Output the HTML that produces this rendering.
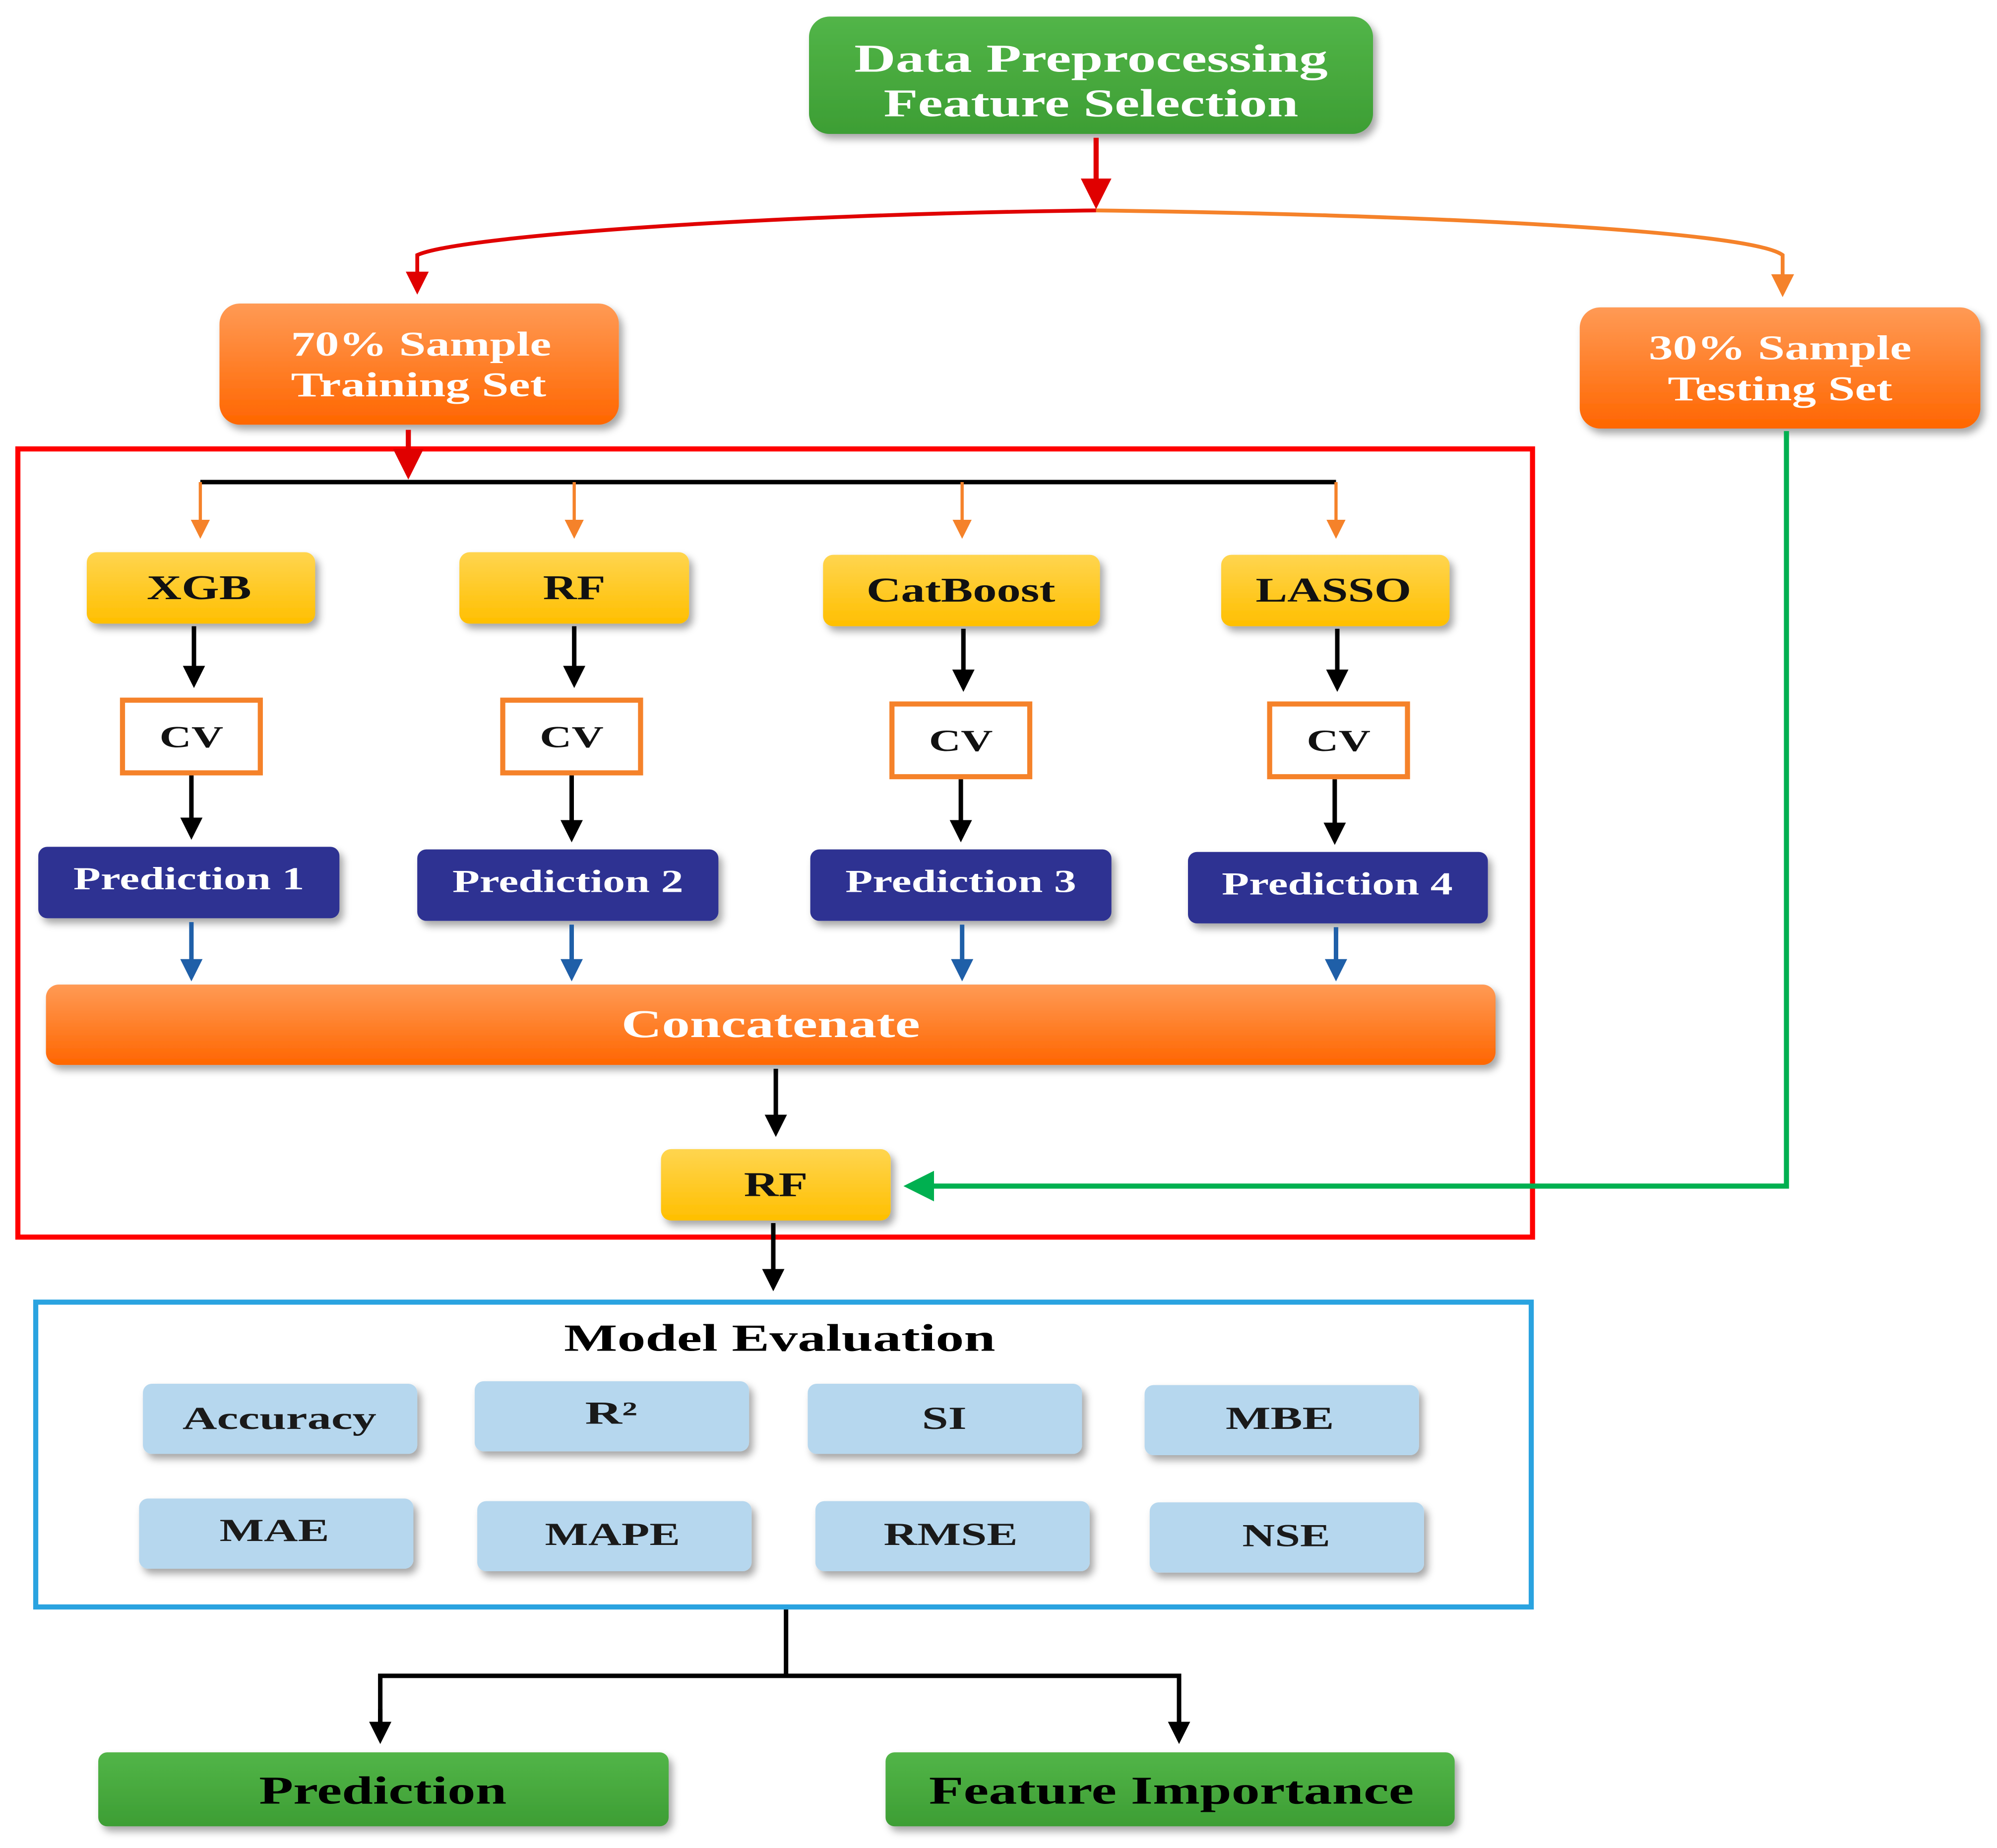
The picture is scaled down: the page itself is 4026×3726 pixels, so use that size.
<!DOCTYPE html>
<html><head><meta charset="utf-8"><style>
html,body{margin:0;padding:0;background:#fff}
svg{display:block}
text{font-family:"Liberation Serif",serif;font-weight:bold;text-anchor:middle;dominant-baseline:central}
</style></head><body>
<svg width="4026" height="3726" viewBox="0 0 1565 1449" preserveAspectRatio="none" xmlns="http://www.w3.org/2000/svg">
<defs>
<linearGradient id="og" x1="0" y1="0" x2="0" y2="1"><stop offset="0" stop-color="#ff9a55"/><stop offset="1" stop-color="#ff6600"/></linearGradient>
<linearGradient id="yg" x1="0" y1="0" x2="0" y2="1"><stop offset="0" stop-color="#ffd54f"/><stop offset="1" stop-color="#ffbf00"/></linearGradient>
<linearGradient id="gg" x1="0" y1="0" x2="0" y2="1"><stop offset="0" stop-color="#52b548"/><stop offset="1" stop-color="#3d9e34"/></linearGradient>
<filter id="sh" x="-10%" y="-20%" width="125%" height="150%"><feDropShadow dx="3" dy="4" stdDeviation="3" flood-color="#000" flood-opacity="0.35"/></filter>
<marker id="ar" markerWidth="6" markerHeight="6" refX="5" refY="3" orient="auto" markerUnits="strokeWidth"><path d="M0,0 L6,3 L0,6 z" fill="#e00000"/></marker>
<marker id="ao" markerWidth="6" markerHeight="6" refX="5" refY="3" orient="auto" markerUnits="strokeWidth"><path d="M0,0 L6,3 L0,6 z" fill="#f5822a"/></marker>
<marker id="ak" markerWidth="5" markerHeight="5" refX="4" refY="2.5" orient="auto" markerUnits="strokeWidth"><path d="M0,0 L5,2.5 L0,5 z" fill="#000"/></marker>
<marker id="ab" markerWidth="5" markerHeight="5" refX="4" refY="2.5" orient="auto" markerUnits="strokeWidth"><path d="M0,0 L5,2.5 L0,5 z" fill="#1f5fa8"/></marker>
<marker id="ag" markerWidth="6" markerHeight="6" refX="5" refY="3" orient="auto" markerUnits="strokeWidth"><path d="M0,0 L6,3 L0,6 z" fill="#00b050"/></marker>
</defs>

<rect x="634" y="13" width="442" height="92" rx="16" fill="url(#gg)" filter="url(#sh)"/>
<text x="855" y="46" font-size="31" fill="#fff" textLength="371" lengthAdjust="spacingAndGlyphs">Data Preprocessing</text>
<text x="855" y="81" font-size="31" fill="#fff" textLength="325" lengthAdjust="spacingAndGlyphs">Feature Selection</text>
<line x1="859" y1="108" x2="859" y2="160" stroke="#e00000" stroke-width="4" marker-end="url(#ar)"/>
<path d="M859,165 C600,168 360,185 327,200 L327,228" fill="none" stroke="#e00000" stroke-width="3" marker-end="url(#ar)"/>
<path d="M859,165 C1100,168 1370,180 1397,200 L1397,230" fill="none" stroke="#f5822a" stroke-width="3" marker-end="url(#ao)"/>

<rect x="172" y="238" width="313" height="95" rx="16" fill="url(#og)" filter="url(#sh)"/>
<text x="330" y="270" font-size="27" fill="#fff" textLength="204" lengthAdjust="spacingAndGlyphs">70% Sample</text>
<text x="328" y="302" font-size="27" fill="#fff" textLength="200" lengthAdjust="spacingAndGlyphs">Training Set</text>
<rect x="1238" y="241" width="314" height="95" rx="16" fill="url(#og)" filter="url(#sh)"/>
<text x="1395" y="273" font-size="27" fill="#fff" textLength="206" lengthAdjust="spacingAndGlyphs">30% Sample</text>
<text x="1395" y="305" font-size="27" fill="#fff" textLength="176" lengthAdjust="spacingAndGlyphs">Testing Set</text>

<rect x="14" y="352" width="1187" height="618" fill="none" stroke="#ff0000" stroke-width="4"/>
<line x1="320" y1="337" x2="320" y2="372" stroke="#e00000" stroke-width="4" marker-end="url(#ar)"/>
<line x1="157" y1="378" x2="1047" y2="378" stroke="#000" stroke-width="3.5"/>
<g stroke="#f5822a" stroke-width="2.5">
<line x1="157" y1="378" x2="157" y2="420" marker-end="url(#ao)"/>
<line x1="450" y1="378" x2="450" y2="420" marker-end="url(#ao)"/>
<line x1="754" y1="378" x2="754" y2="420" marker-end="url(#ao)"/>
<line x1="1047" y1="378" x2="1047" y2="420" marker-end="url(#ao)"/>
</g>

<g filter="url(#sh)" fill="url(#yg)">
<rect x="68" y="433" width="179" height="56" rx="8"/>
<rect x="360" y="433" width="180" height="56" rx="8"/>
<rect x="645" y="435" width="217" height="56" rx="8"/>
<rect x="957" y="435" width="179" height="56" rx="8"/>
<rect x="518" y="901" width="180" height="56" rx="8"/>
</g>
<g font-size="27" fill="#111">
<text x="156" y="461" textLength="82" lengthAdjust="spacingAndGlyphs">XGB</text>
<text x="450" y="461" textLength="49" lengthAdjust="spacingAndGlyphs">RF</text>
<text x="753" y="463" textLength="148" lengthAdjust="spacingAndGlyphs">CatBoost</text>
<text x="1045" y="463" textLength="122" lengthAdjust="spacingAndGlyphs">LASSO</text>
<text x="608" y="929" textLength="50" lengthAdjust="spacingAndGlyphs">RF</text>
</g>

<g stroke="#000" stroke-width="3.5">
<line x1="152" y1="491" x2="152" y2="536" marker-end="url(#ak)"/>
<line x1="450" y1="491" x2="450" y2="536" marker-end="url(#ak)"/>
<line x1="755" y1="493" x2="755" y2="539" marker-end="url(#ak)"/>
<line x1="1048" y1="493" x2="1048" y2="539" marker-end="url(#ak)"/>
<line x1="150" y1="608" x2="150" y2="655" marker-end="url(#ak)"/>
<line x1="448" y1="608" x2="448" y2="657" marker-end="url(#ak)"/>
<line x1="753" y1="611" x2="753" y2="657" marker-end="url(#ak)"/>
<line x1="1046" y1="611" x2="1046" y2="659" marker-end="url(#ak)"/>
</g>
<g fill="#fff" stroke="#f5822a" stroke-width="4">
<rect x="96" y="549" width="108" height="57"/>
<rect x="394" y="549" width="108" height="57"/>
<rect x="699" y="552" width="108" height="57"/>
<rect x="995" y="552" width="108" height="57"/>
</g>
<g font-size="24" fill="#111" font-weight="normal">
<text x="150" y="578" textLength="50" lengthAdjust="spacingAndGlyphs">CV</text>
<text x="448" y="578" textLength="50" lengthAdjust="spacingAndGlyphs">CV</text>
<text x="753" y="581" textLength="50" lengthAdjust="spacingAndGlyphs">CV</text>
<text x="1049" y="581" textLength="50" lengthAdjust="spacingAndGlyphs">CV</text>
</g>

<g fill="#2e3192" filter="url(#sh)">
<rect x="30" y="664" width="236" height="56" rx="7"/>
<rect x="327" y="666" width="236" height="56" rx="7"/>
<rect x="635" y="666" width="236" height="56" rx="7"/>
<rect x="931" y="668" width="235" height="56" rx="7"/>
</g>
<g font-size="25" fill="#fff">
<text x="148" y="689" textLength="181" lengthAdjust="spacingAndGlyphs">Prediction 1</text>
<text x="445" y="691" textLength="181" lengthAdjust="spacingAndGlyphs">Prediction 2</text>
<text x="753" y="691" textLength="181" lengthAdjust="spacingAndGlyphs">Prediction 3</text>
<text x="1048" y="693" textLength="181" lengthAdjust="spacingAndGlyphs">Prediction 4</text>
</g>
<g stroke="#1f5fa8" stroke-width="3.5">
<line x1="150" y1="723" x2="150" y2="766" marker-end="url(#ab)"/>
<line x1="448" y1="725" x2="448" y2="766" marker-end="url(#ab)"/>
<line x1="754" y1="725" x2="754" y2="766" marker-end="url(#ab)"/>
<line x1="1047" y1="727" x2="1047" y2="766" marker-end="url(#ab)"/>
</g>

<rect x="36" y="772" width="1136" height="63" rx="10" fill="url(#og)" filter="url(#sh)"/>
<text x="604" y="803" font-size="31" fill="#fff" textLength="234" lengthAdjust="spacingAndGlyphs">Concatenate</text>
<line x1="608" y1="838" x2="608" y2="888" stroke="#000" stroke-width="3.5" marker-end="url(#ak)"/>

<polyline points="1400,338 1400,930 712,930" fill="none" stroke="#00b050" stroke-width="4" marker-end="url(#ag)"/>
<line x1="606" y1="959" x2="606" y2="1009" stroke="#000" stroke-width="3.5" marker-end="url(#ak)"/>

<rect x="28" y="1021" width="1172" height="239" fill="none" stroke="#2aa3e0" stroke-width="4"/>
<text x="611" y="1049" font-size="30" fill="#000" textLength="338" lengthAdjust="spacingAndGlyphs">Model Evaluation</text>
<g fill="#b6d7ee" filter="url(#sh)">
<rect x="112" y="1085" width="215" height="55" rx="7"/>
<rect x="372" y="1083" width="215" height="55" rx="7"/>
<rect x="633" y="1085" width="215" height="55" rx="7"/>
<rect x="897" y="1086" width="215" height="55" rx="7"/>
<rect x="109" y="1175" width="215" height="55" rx="7"/>
<rect x="374" y="1177" width="215" height="55" rx="7"/>
<rect x="639" y="1177" width="215" height="55" rx="7"/>
<rect x="901" y="1178" width="215" height="55" rx="7"/>
</g>
<g font-size="25" fill="#1a1a1a">
<text x="219" y="1112" textLength="152" lengthAdjust="spacingAndGlyphs">Accuracy</text>
<text x="479" y="1108" textLength="41" lengthAdjust="spacingAndGlyphs">R²</text>
<text x="740" y="1112" textLength="35" lengthAdjust="spacingAndGlyphs">SI</text>
<text x="1003" y="1112" textLength="85" lengthAdjust="spacingAndGlyphs">MBE</text>
<text x="215" y="1200" textLength="86" lengthAdjust="spacingAndGlyphs">MAE</text>
<text x="480" y="1203" textLength="106" lengthAdjust="spacingAndGlyphs">MAPE</text>
<text x="745" y="1203" textLength="105" lengthAdjust="spacingAndGlyphs">RMSE</text>
<text x="1008" y="1204" textLength="69" lengthAdjust="spacingAndGlyphs">NSE</text>
</g>

<line x1="616" y1="1262" x2="616" y2="1313" stroke="#000" stroke-width="3.5"/>
<polyline points="298,1362 298,1314 924,1314 924,1362" fill="none" stroke="#000" stroke-width="3.5"/>
<line x1="298" y1="1340" x2="298" y2="1364" stroke="#000" stroke-width="3.5" marker-end="url(#ak)"/>
<line x1="924" y1="1340" x2="924" y2="1364" stroke="#000" stroke-width="3.5" marker-end="url(#ak)"/>

<rect x="77" y="1374" width="447" height="58" rx="7" fill="url(#gg)" filter="url(#sh)"/>
<rect x="694" y="1374" width="446" height="58" rx="7" fill="url(#gg)" filter="url(#sh)"/>
<text x="300" y="1404" font-size="31" fill="#000" textLength="194" lengthAdjust="spacingAndGlyphs">Prediction</text>
<text x="918" y="1404" font-size="31" fill="#000" textLength="380" lengthAdjust="spacingAndGlyphs">Feature Importance</text>
</svg>
</body></html>
